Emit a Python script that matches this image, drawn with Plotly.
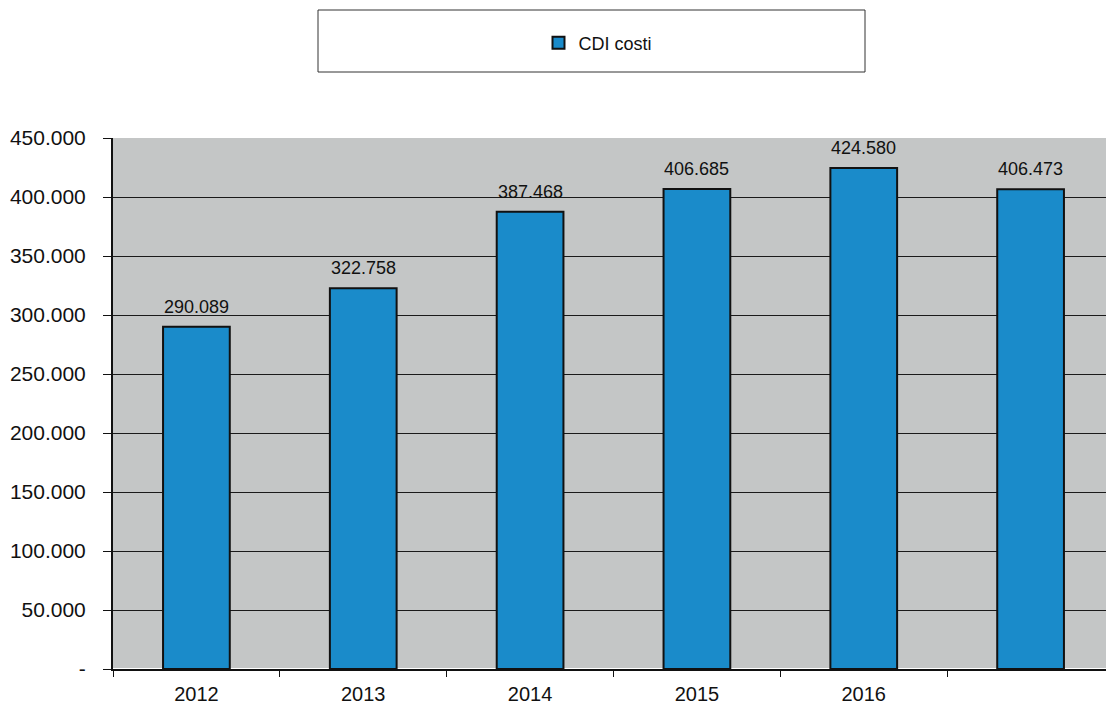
import plotly.graph_objects as go

categories = ["2012", "2013", "2014", "2015", "2016", " "]
values = [290089, 322758, 387468, 406685, 424580, 406473]
series_name = "CDI costi"
y_tickvals = [0, 50000, 100000, 150000, 200000, 250000, 300000, 350000, 400000, 450000]
y_ticktext = ["-", "50.000", "100.000", "150.000", "200.000", "250.000", "300.000", "350.000", "400.000", "450.000"]


def fmt(v):
    return f"{v:,}".replace(",", ".")


# page offset (body margin) is 8px
W, H = 1106, 699
L, R, T, B = 105, 0, 130, 38
PW = W - L - R
PH = H - T - B


def px(xs):
    return (xs - 8 - L) / PW


def py(ys):
    return (H - B - (ys - 8)) / PH


fig = go.Figure()
fig.add_trace(go.Bar(
    x=categories, y=values, name=series_name,
    marker=dict(color="#1A8BCA", line=dict(color="#111111", width=2)),
    width=0.4,
))

for i, v in enumerate(values):
    fig.add_annotation(x=i, y=v, xref="x", yref="y", text=fmt(v), showarrow=False,
                       yanchor="middle", yshift=20, font=dict(size=18, color="#111111"))

fig.update_layout(
    width=W, height=H,
    margin=dict(l=L, r=R, t=T, b=B),
    paper_bgcolor="white", plot_bgcolor="#C4C6C6",
    font=dict(family="Liberation Sans, Arial", size=17, color="#111111"),
    showlegend=True,
    legend=dict(x=px(598), y=py(43), xref="paper", yref="paper", xanchor="center", yanchor="middle",
                orientation="h", bgcolor="rgba(0,0,0,0)", font=dict(size=18),
                itemwidth=30),
    bargap=0.6,
)
fig.add_shape(type="rect", xref="paper", yref="paper",
              x0=px(318), x1=px(865), y0=py(72), y1=py(10),
              line=dict(color="#333333", width=1), fillcolor="rgba(0,0,0,0)")

fig.update_xaxes(
    type="category", categoryorder="array", categoryarray=categories,
    tickson="boundaries", ticks="outside", ticklen=6, tickcolor="#111",
    showline=True, linecolor="#111", linewidth=2, showgrid=False,
    tickfont=dict(size=20), ticklabelstandoff=6, tickangle=0,
)
fig.update_yaxes(
    range=[0, 450000], tickvals=y_tickvals, ticktext=y_ticktext,
    ticks="outside", ticklen=8, tickcolor="#111",
    showline=True, linecolor="#111", linewidth=2,
    showgrid=True, gridcolor="#1a1a1a", gridwidth=1,
    tickfont=dict(size=21), ticklabelstandoff=13,
)

fig.write_html("out.html")
